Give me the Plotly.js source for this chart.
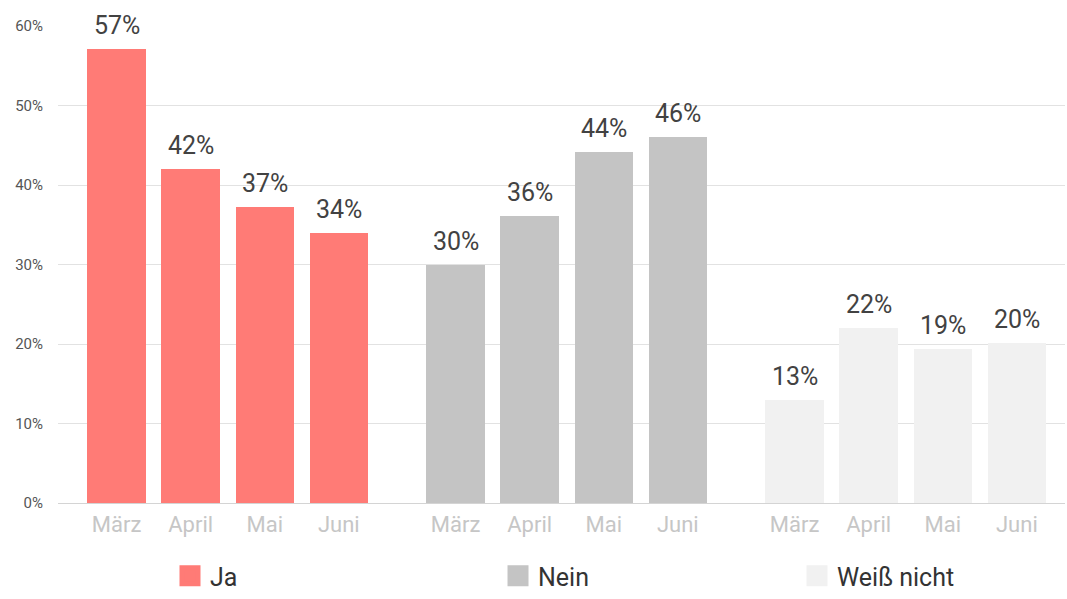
<!DOCTYPE html>
<html>
<head>
<meta charset="utf-8">
<script src="https://cdn.plot.ly/plotly-3.0.1.min.js"></script>
<style>
html,body{margin:0;padding:0;background:#fff;}
#chart{width:1067px;height:599px;}
</style>
</head>
<body>
<div id="chart"></div>
<script>
// ---- data ----
const months = ["März", "April", "Mai", "Juni"];
const seriesNames = ["Ja", "Nein", "Weiß nicht"];
const jaValues = [57.1, 42, 37.2, 34];
const neinValues = [30, 36.1, 44.1, 46.1];
const weissValues = [13, 22, 19.4, 20.1];
const seriesColors = ["#ff7b76", "#c4c4c4", "#f1f1f1"];

// ---- layout helpers ----
const groupPitch = 4.575;
const barWidth = 0.787;
const allValues = [jaValues, neinValues, weissValues];
const legendIds = ["legend", "legend2", "legend3"];

const traces = [];
const annotations = [];
let tickvals = [], ticktext = [];

allValues.forEach((vals, g) => {
  const xs = months.map((m, i) => g * groupPitch + i);
  xs.forEach((x, i) => { tickvals.push(x); ticktext.push(months[i]); });
  traces.push({
    type: "bar",
    x: xs,
    y: vals,
    width: barWidth,
    marker: {color: seriesColors[g]},
    showlegend: false,
    hoverinfo: "skip"
  });
  vals.forEach((v, i) => {
    annotations.push({
      x: xs[i], y: v, xref: "x", yref: "y",
      text: Math.round(v) + "%",
      showarrow: false, yanchor: "bottom", yshift: 7,
      font: {family: "Roboto, sans-serif", size: 25, color: "#424242"}
    });
  });
  // legend-only marker trace
  traces.push({
    type: "scatter",
    mode: "markers",
    x: [null], y: [null],
    name: seriesNames[g],
    legend: legendIds[g],
    marker: {symbol: "square", size: 16, color: seriesColors[g], line: {width: 5, color: seriesColors[g]}},
    showlegend: true,
    hoverinfo: "skip"
  });
});

const legendFont = {family: "Roboto, sans-serif", size: 25, color: "#333333"};
const legendBase = {orientation: "h", yref: "container", xref: "container", yanchor: "bottom", xanchor: "left", y: -0.009, borderwidth: 0, font: legendFont, bgcolor: "rgba(0,0,0,0)"};

const layout = {
  width: 1067, height: 599,
  margin: {l: 58, r: 2, t: 26, b: 96, autoexpand: false},
  paper_bgcolor: "#ffffff",
  plot_bgcolor: "#ffffff",
  font: {family: "Roboto, sans-serif"},
  bargap: 0,
  hovermode: false,
  xaxis: {
    type: "linear",
    range: [-0.79, 12.80],
    tickvals: tickvals,
    ticktext: ticktext,
    showgrid: false, zeroline: false, showline: false,
    ticks: "",
    ticklabelstandoff: 6,
    tickfont: {family: "Roboto, sans-serif", size: 22, color: "#c6c6c6"}
  },
  yaxis: {
    range: [0, 60],
    dtick: 10,
    ticksuffix: "%",
    showgrid: true, gridcolor: "#e2e2e2", gridwidth: 1,
    zeroline: true, zerolinecolor: "#d4d4d4", zerolinewidth: 1,
    showline: false, ticks: "",
    ticklabelstandoff: 14,
    tickfont: {family: "Roboto, sans-serif", size: 15, color: "#555555"}
  },
  legend: Object.assign({}, legendBase, {x: 170 / 1067}),
  legend2: Object.assign({}, legendBase, {x: 498 / 1067}),
  legend3: Object.assign({}, legendBase, {x: 797 / 1067}),
  annotations: annotations
};

Plotly.newPlot("chart", traces, layout, {staticPlot: true, displayModeBar: false});
</script>
</body>
</html>
